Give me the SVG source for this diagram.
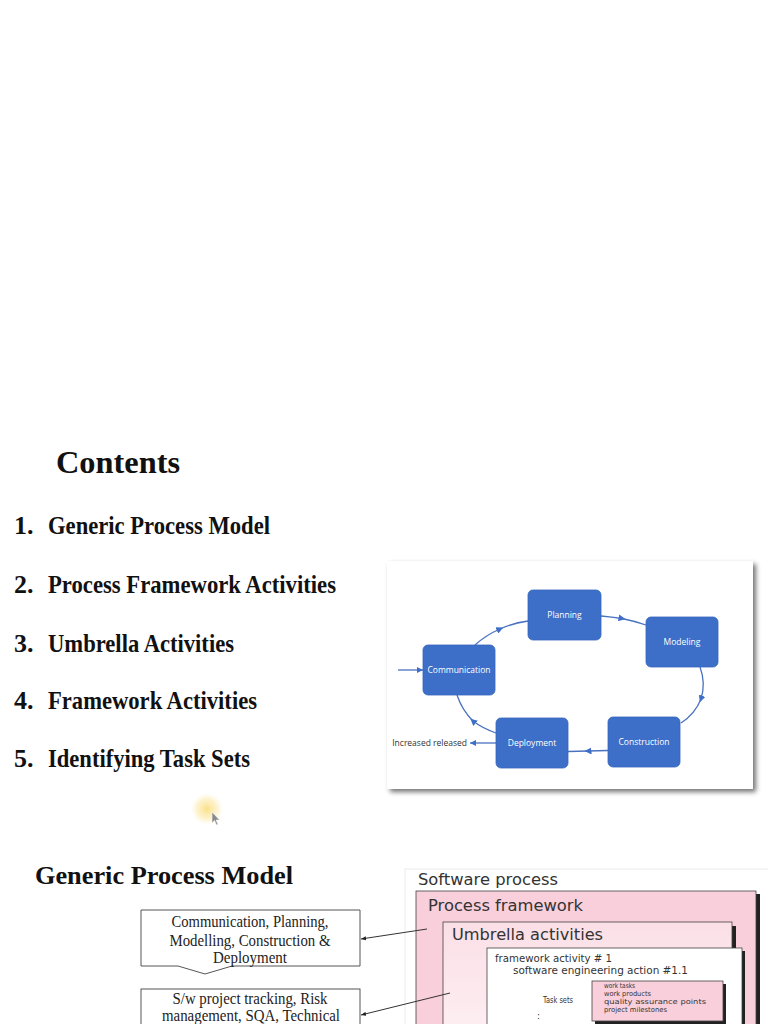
<svg xmlns="http://www.w3.org/2000/svg" width="768" height="1024" viewBox="0 0 768 1024">
  <defs>
    <style>
      .h { font-family: "Liberation Serif", "Times New Roman", serif; font-weight: bold; fill: #111; }
      .bl { font-family: "Open Sans", "Noto Sans", sans-serif; font-size: 8.5px; fill: #ffffff; text-anchor: middle; }
      .node { fill: #3d6ec8; stroke: #3566bf; stroke-width: 0.8; }
      .con { fill: none; stroke: #4a72c0; stroke-width: 1.3; }
      .tr { font-family: "Liberation Serif", "Times New Roman", serif; font-size: 16px; fill: #222; text-anchor: middle; }
      .g { font-family: "DejaVu Sans", "Noto Sans", sans-serif; fill: #333; }
      .ptr { fill: none; stroke: #333; stroke-width: 1; }
    </style>
    <marker id="ah" viewBox="0 0 10 10" refX="5" refY="5" markerWidth="7" markerHeight="7" markerUnits="userSpaceOnUse" orient="auto">
      <path d="M0,0 L10,5 L0,10 z" fill="#3d6ec8"/>
    </marker>
    <marker id="ahe" viewBox="0 0 10 10" refX="10" refY="5" markerWidth="6" markerHeight="6" markerUnits="userSpaceOnUse" orient="auto">
      <path d="M0,0 L10,5 L0,10 z" fill="#3d6ec8"/>
    </marker>
    <marker id="pa" viewBox="0 0 10 10" refX="10" refY="5" markerWidth="5" markerHeight="5" markerUnits="userSpaceOnUse" orient="auto">
      <path d="M0,1 L10,5 L0,9 z" fill="#222"/>
    </marker>
    <filter id="sh" x="-5%" y="-5%" width="115%" height="115%">
      <feGaussianBlur in="SourceAlpha" stdDeviation="2.5"/>
      <feOffset dx="3" dy="3" result="b"/>
      <feComponentTransfer><feFuncA type="linear" slope="0.55"/></feComponentTransfer>
      <feMerge><feMergeNode/><feMergeNode in="SourceGraphic"/></feMerge>
    </filter>
    <radialGradient id="glow">
      <stop offset="0" stop-color="#fbdc7a" stop-opacity="0.9"/>
      <stop offset="0.6" stop-color="#fce9a8" stop-opacity="0.6"/>
      <stop offset="1" stop-color="#fdf0c0" stop-opacity="0"/>
    </radialGradient>
    <linearGradient id="umb" x1="0" y1="0" x2="0" y2="1">
      <stop offset="0" stop-color="#fbdfe7"/>
      <stop offset="1" stop-color="#fdeef2"/>
    </linearGradient>
  </defs>

  <rect width="768" height="1024" fill="#ffffff"/>

  <!-- Contents -->
  <g id="contents">
    <text class="h" x="56" y="473" font-size="32" textLength="124" lengthAdjust="spacingAndGlyphs">Contents</text>
    <text class="h" x="14" y="534" font-size="26">1.</text>
    <text class="h" x="48" y="534" font-size="26" textLength="222" lengthAdjust="spacingAndGlyphs">Generic Process Model</text>
    <text class="h" x="14" y="593" font-size="26">2.</text>
    <text class="h" x="48" y="593" font-size="26" textLength="288" lengthAdjust="spacingAndGlyphs">Process Framework Activities</text>
    <text class="h" x="14" y="652" font-size="26">3.</text>
    <text class="h" x="48" y="652" font-size="26" textLength="186" lengthAdjust="spacingAndGlyphs">Umbrella Activities</text>
    <text class="h" x="14" y="709" font-size="26">4.</text>
    <text class="h" x="48" y="709" font-size="26" textLength="209" lengthAdjust="spacingAndGlyphs">Framework Activities</text>
    <text class="h" x="14" y="767" font-size="26">5.</text>
    <text class="h" x="48" y="767" font-size="26" textLength="202" lengthAdjust="spacingAndGlyphs">Identifying Task Sets</text>
  </g>

  <!-- cursor -->
  <g id="cursor">
    <circle cx="207" cy="809" r="16" fill="url(#glow)"/>
    <path d="M212,812 L212,823 L214.5,820.5 L216.5,825 L218,824.3 L216,820 L219.5,820 Z" fill="#8a8a8a" stroke="#f4f4f4" stroke-width="0.6"/>
  </g>

  <!-- Blue process cycle panel -->
  <rect id="panel" x="387" y="561" width="366" height="228" fill="#ffffff" filter="url(#sh)"/>

  <g id="connectors">
    <path class="con" d="M398,670 L423,670" marker-end="url(#ahe)"/>
    <path class="con" d="M475,645 Q486,635 500,629 Q513,623 528,621" marker-mid="url(#ah)"/>
    <path class="con" d="M601,616 Q612,617 622,618.5 Q634,621 646,625" marker-mid="url(#ah)"/>
    <path class="con" d="M700,667 Q706,683 701,699 Q695,714 681,723" marker-mid="url(#ah)"/>
    <path class="con" d="M608,750.5 L588,751 L568,751.5" marker-mid="url(#ah)"/>
    <path class="con" d="M496,733 Q482,728 473,721 Q462,710 457,695" marker-mid="url(#ah)"/>
    <path class="con" d="M496,743 L470,743" marker-end="url(#ahe)"/>
  </g>

  <g id="planning"><rect class="node" x="528" y="590" width="73" height="50" rx="5"/><text class="bl" x="564.5" y="618">Planning</text></g>
  <g id="modeling"><rect class="node" x="646" y="617" width="72" height="50" rx="5"/><text class="bl" x="682" y="645">Modeling</text></g>
  <g id="communication"><rect class="node" x="423" y="645" width="72" height="50" rx="5"/><text class="bl" x="459" y="673">Communication</text></g>
  <g id="deployment"><rect class="node" x="496" y="718" width="72" height="50" rx="5"/><text class="bl" x="532" y="746">Deployment</text></g>
  <g id="construction"><rect class="node" x="608" y="717" width="72" height="50" rx="5"/><text class="bl" x="644" y="745">Construction</text></g>
  <g id="increased-released"><text x="467" y="746" font-family="Open Sans, Noto Sans, sans-serif" font-size="8.5" fill="#333" text-anchor="end">Increased released</text></g>

  <!-- Generic Process Model section -->
  <text class="h" x="35" y="884" font-size="26" textLength="258" lengthAdjust="spacingAndGlyphs">Generic Process Model</text>

  <g id="box-framework-activities">
    <path d="M141,910 L360,910 L360,966 L232,966 L205,974 L178,966 L141,966 Z" fill="#fff" stroke="#555" stroke-width="1"/>
    <text class="tr" x="250" y="927" textLength="157" lengthAdjust="spacingAndGlyphs">Communication, Planning,</text>
    <text class="tr" x="250" y="946" textLength="161" lengthAdjust="spacingAndGlyphs">Modelling, Construction &amp;</text>
    <text class="tr" x="250" y="963" textLength="74" lengthAdjust="spacingAndGlyphs">Deployment</text>
  </g>
  <g id="box-umbrella-activities">
    <rect x="141" y="989" width="219" height="60" fill="#fff" stroke="#555" stroke-width="1"/>
    <text class="tr" x="250" y="1004" textLength="155" lengthAdjust="spacingAndGlyphs">S/w project tracking, Risk</text>
    <text class="tr" x="251" y="1021" font-size="13.5" textLength="178" lengthAdjust="spacingAndGlyphs">management, SQA, Technical</text>
  </g>

  <!-- Software process figure -->
  <g id="software-process">
    <rect x="405" y="869" width="380" height="200" fill="#ffffff" stroke="#ececec" stroke-width="1"/>
    <text class="g" x="418" y="885" font-size="15" textLength="140" lengthAdjust="spacingAndGlyphs">Software process</text>
  </g>
  <g id="process-framework">
    <rect x="419" y="894" width="341" height="140" fill="#222"/>
    <rect x="416" y="891" width="340" height="140" fill="#f8cfdb" stroke="#444" stroke-width="0.8"/>
    <text class="g" x="428" y="911" font-size="16" textLength="155" lengthAdjust="spacingAndGlyphs">Process framework</text>
  </g>
  <g id="umbrella-activities">
    <rect x="446" y="926" width="290" height="110" fill="#222"/>
    <rect x="443" y="922" width="289" height="110" fill="url(#umb)" stroke="#444" stroke-width="0.8"/>
    <text class="g" x="452" y="940" font-size="16" textLength="151" lengthAdjust="spacingAndGlyphs">Umbrella activities</text>
  </g>
  <g id="framework-activity">
    <rect x="490" y="951" width="255" height="80" fill="#222"/>
    <rect x="487" y="948" width="255" height="80" fill="#ffffff" stroke="#444" stroke-width="0.8"/>
    <text class="g" x="495" y="962" font-size="11" textLength="117" lengthAdjust="spacingAndGlyphs">framework activity # 1</text>
    <text class="g" x="513" y="974" font-size="10" textLength="175" lengthAdjust="spacingAndGlyphs">software engineering action #1.1</text>
    <text class="g" x="543" y="1003" font-size="8" textLength="30" lengthAdjust="spacingAndGlyphs">Task sets</text>
    <text class="g" x="537" y="1019" font-size="9">:</text>
  </g>
  <g id="task-sets">
    <rect x="595" y="984" width="131" height="40" fill="#222"/>
    <rect x="592" y="981" width="131" height="40" fill="#f8cfdb" stroke="#444" stroke-width="0.8"/>
    <text class="g" x="604" y="988" font-size="7" textLength="31" lengthAdjust="spacingAndGlyphs">work tasks</text>
    <text class="g" x="604" y="996" font-size="7" textLength="47" lengthAdjust="spacingAndGlyphs">work products</text>
    <text class="g" x="604" y="1004" font-size="7" textLength="102" lengthAdjust="spacingAndGlyphs">quality assurance points</text>
    <text class="g" x="604" y="1012" font-size="7" textLength="63" lengthAdjust="spacingAndGlyphs">project milestones</text>
  </g>

  <g id="pointers">
    <path class="ptr" d="M427,929 L361,939" marker-end="url(#pa)"/>
    <path class="ptr" d="M450,993 L361,1015" marker-end="url(#pa)"/>
  </g>
</svg>
